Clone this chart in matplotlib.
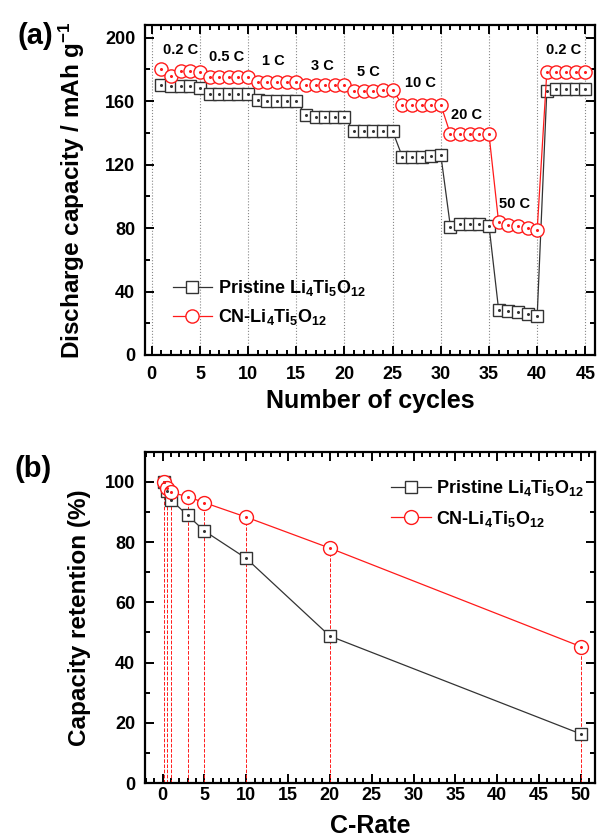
import numpy as np
import matplotlib
matplotlib.use("Agg")
import matplotlib.pyplot as plt
from matplotlib.ticker import MultipleLocator

plt.rcParams["font.family"] = ["Liberation Sans", "DejaVu Sans"]
plt.rcParams["font.weight"] = "bold"
plt.rcParams["mathtext.fontset"] = "custom"
plt.rcParams["mathtext.bf"] = "Liberation Sans:bold"
plt.rcParams["mathtext.rm"] = "Liberation Sans:bold"
plt.rcParams["mathtext.default"] = "bf"

# (a) rate capability, discharge capacity per cycle
cycles = list(range(1, 46))
pristine_cap = [170, 169.3, 169.3, 169.3, 168,
                164.7, 164.7, 164.7, 164.7, 164.7,
                161, 160.3, 160.3, 160.3, 160.3,
                151, 150, 150, 150, 150,
                141, 141, 141, 141, 141,
                125, 125, 125, 125.5, 126,
                80.5, 82.3, 82.3, 82.3, 81.4,
                28.4, 28, 27, 26, 24.8,
                166.6, 167.8, 167.8, 167.8, 167.8]
cn_cap = [180.2, 176, 178.7, 178.7, 178.3,
          175.5, 175, 175, 175, 175,
          172, 172, 172, 172.3, 172.3,
          170, 170, 170, 170, 170,
          166.6, 166.6, 166.6, 167, 167.2,
          157.7, 157.7, 157.7, 157.7, 157.7,
          139, 139, 139, 139, 139,
          83.5, 82, 81, 80, 79,
          178.3, 178.3, 178.3, 178.3, 178.3]
rate_labels = ["0.2 C", "0.5 C", "1 C", "3 C", "5 C", "10 C", "20 C", "50 C", "0.2 C"]
rate_label_x = [3.0, 7.8, 12.6, 17.7, 22.5, 27.9, 32.7, 37.7, 42.7]
rate_label_y = [192, 188, 185, 182, 178.5, 171.5, 151.5, 95, 192]

# (b) capacity retention vs C-rate
c_rate = [0.2, 0.5, 1, 3, 5, 10, 20, 50]
pristine_ret = [100, 97, 94, 88.9, 83.7, 74.6, 48.8, 16.3]
cn_ret = [100, 98, 96.5, 95.1, 93.1, 88.3, 78, 45.3]

legend_labels = ["Pristine Li$_4$Ti$_5$O$_{12}$", "CN-Li$_4$Ti$_5$O$_{12}$"]

BLACK, RED = "#333333", "#ff1a1a"


def _series(ax, x, y, color, marker, ms, label):
    ax.plot(x, y, color=color, lw=0.9, marker=marker, ms=ms, mfc="white",
            mec=color, mew=1.0, label=label, zorder=3)
    ax.plot(x, y, ls="none", marker="o", ms=1.2, color=color, zorder=4)


def _style(ax, xpad):
    ax.tick_params(which="both", direction="in", top=True, right=True,
                   labelsize=13, width=1.4)
    ax.tick_params(which="major", length=6.5)
    ax.tick_params(which="minor", length=3.5)
    ax.tick_params(axis="y", pad=7)
    ax.tick_params(axis="x", pad=xpad)
    for s in ax.spines.values():
        s.set_linewidth(1.6)
    for lab in ax.get_xticklabels() + ax.get_yticklabels():
        lab.set_fontweight("bold")


fig = plt.figure(figsize=(5.98, 8.38), dpi=100)

# ---------- (a)
ax1 = fig.add_axes([0.2425, 0.5764, 0.7525, 0.3938])
_series(ax1, cycles, pristine_cap, BLACK, "s", 8, legend_labels[0])
_series(ax1, cycles, cn_cap, RED, "o", 9.5, legend_labels[1])
for t, x, y in zip(rate_labels, rate_label_x, rate_label_y):
    ax1.text(x, y, t, ha="center", va="center", fontsize=10.5, fontweight="bold")
ax1.set_xlim(-0.7, 46)
ax1.set_ylim(0, 208)
ax1.xaxis.set_major_locator(MultipleLocator(5))
ax1.xaxis.set_minor_locator(MultipleLocator(1))
ax1.yaxis.set_major_locator(MultipleLocator(40))
ax1.yaxis.set_minor_locator(MultipleLocator(20))
ax1.grid(axis="x", which="major", ls=":", color="#888888", lw=0.8)
ax1.set_axisbelow(True)
ax1.set_xlabel("Number of cycles", fontsize=18, fontweight="bold", labelpad=4)
ax1.set_ylabel("Discharge capacity / mAh g$^{-1}$", fontsize=17.5, fontweight="bold")
ax1.yaxis.set_label_coords(-0.128, 0.5)
ax1.legend(loc="lower left", bbox_to_anchor=(0.025, 0.035), frameon=False,
           handlelength=2.2, handletextpad=0.3, labelspacing=0.5,
           prop={"weight": "bold", "size": 13})
_style(ax1, 8)
fig.text(0.0585, 0.957, "(a)", fontsize=21, fontweight="bold", ha="center", va="center")

# ---------- (b)
ax2 = fig.add_axes([0.2425, 0.0656, 0.7525, 0.3953])
for xv, yv in zip(c_rate, cn_ret):
    ax2.plot([xv, xv], [0, yv], color=RED, ls="--", lw=0.7, zorder=2)
_series(ax2, c_rate, pristine_ret, BLACK, "s", 9, legend_labels[0])
_series(ax2, c_rate, cn_ret, RED, "o", 10, legend_labels[1])
ax2.set_xlim(-2.1, 51.7)
ax2.set_ylim(0, 110)
ax2.xaxis.set_major_locator(MultipleLocator(5))
ax2.xaxis.set_minor_locator(MultipleLocator(1))
ax2.yaxis.set_major_locator(MultipleLocator(20))
ax2.yaxis.set_minor_locator(MultipleLocator(10))
ax2.set_xlabel("C-Rate", fontsize=18, fontweight="bold", labelpad=7)
ax2.set_ylabel("Capacity retention (%)", fontsize=17.5, fontweight="bold")
ax2.yaxis.set_label_coords(-0.12, 0.5)
ax2.legend(loc="upper right", bbox_to_anchor=(1.012, 0.97), frameon=False,
           handlelength=2.2, handletextpad=0.3, labelspacing=0.6,
           prop={"weight": "bold", "size": 13})
_style(ax2, 3)
fig.text(0.056, 0.440, "(b)", fontsize=21, fontweight="bold", ha="center", va="center")

fig.savefig("out.png", dpi=100)
